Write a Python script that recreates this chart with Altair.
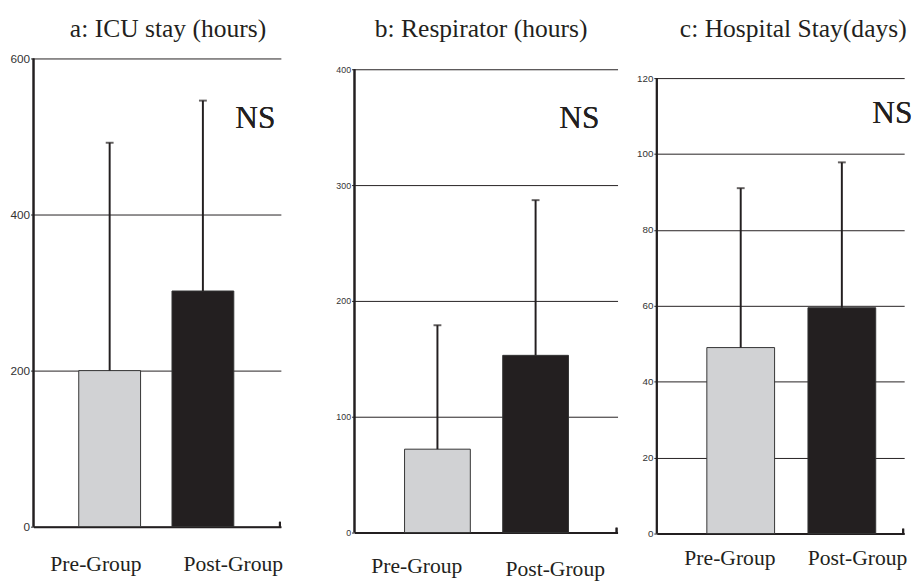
import altair as alt
import pandas as pd

groups = ["Pre-Group", "Post-Group"]
bar_colors = ["#d1d2d4", "#231f20"]

titles = ["a: ICU stay (hours)", "b: Respirator (hours)", "c: Hospital Stay(days)"]

icu_mean = [200, 302]
icu_top = [492, 546]
resp_mean = [72, 153]
resp_top = [179, 287]
hosp_mean = [49, 59.5]
hosp_top = [91, 97.8]

y_max = [600, 400, 120]
y_ticks = [[0, 200, 400, 600], [0, 100, 200, 300, 400], [0, 20, 40, 60, 80, 100, 120]]
ns_text = "NS"
ns_y = [524, 358, 110.7]

INK = "#231f20"
SERIF = "Liberation Serif, Times New Roman, serif"


def panel(title, mean, top, ymax, ticks, nsy, w, h, h_axis, pi, po, al, toff, tdx,
          ysize, yext, pre_off, post_off, pre_pad, post_pad, ns_x):
    df = pd.DataFrame({"group": groups, "mean": mean, "top": top})
    # scale top extended so that the axis maximum sits h - h_axis px below the panel top
    y_scale_top = ymax * h / h_axis
    x = alt.X(
        "group:N", sort=groups,
        scale=alt.Scale(domain=groups, paddingInner=pi, paddingOuter=po, align=al),
        axis=alt.Axis(
            title=None, labelAngle=0, ticks=False,
            domainColor=INK, domainWidth=2,
            labelFont=SERIF, labelFontSize=22, labelColor=INK,
            labelOffset={"condition": {"test": "datum.value === 'Pre-Group'", "value": pre_off}, "value": post_off},
            labelPadding={"condition": {"test": "datum.value === 'Pre-Group'", "value": pre_pad}, "value": post_pad},
        ),
    )
    y = alt.Y(
        "mean:Q",
        scale=alt.Scale(domain=[0, y_scale_top], nice=False, zero=True),
        axis=alt.Axis(
            title=None, values=ticks, format="d", domain=False,
            grid=True, gridColor=INK, gridWidth=1,
            tickSize=3, tickColor=INK, tickWidth=1,
            labelFont="Liberation Sans", labelFontSize=ysize, labelColor="#333333",
            labelPadding=1, minExtent=yext, maxExtent=yext,
        ),
    )
    bars = alt.Chart(df).mark_bar(stroke="#333333", strokeWidth=1).encode(
        x=x, y=y,
        color=alt.Color("group:N", scale=alt.Scale(domain=groups, range=bar_colors), legend=None),
    )
    err = alt.Chart(df).mark_rule(strokeWidth=2, color=INK).encode(
        x=alt.X("group:N", sort=groups), y="mean:Q", y2="top:Q"
    )
    cap = alt.Chart(df).mark_tick(thickness=2, size=8, color=INK).encode(
        x=alt.X("group:N", sort=groups), y="top:Q"
    )
    yaxis_line = alt.Chart(df).mark_rule(strokeWidth=2, color=INK).encode(
        x=alt.value(0), y=alt.datum(0), y2=alt.datum(ymax)
    )
    ns = alt.Chart(df).mark_text(
        text=ns_text, font=SERIF, fontSize=32, color=INK,
        align="center", baseline="middle",
    ).encode(x=alt.value(ns_x), y=alt.datum(nsy))
    endtick = alt.Chart(df).mark_rule(strokeWidth=2, color=INK).encode(
        x=alt.value(w - 1), y=alt.value(h), y2=alt.value(h - 5)
    )
    return alt.layer(bars, err, cap, yaxis_line, ns, endtick).properties(
        width=w, height=h,
        title=alt.TitleParams(
            title, font=SERIF, fontSize=26, fontWeight="normal",
            color=INK, offset=toff, dx=tdx, anchor="middle",
        ),
    )


pa = panel(titles[0], icu_mean, icu_top, y_max[0], y_ticks[0], ns_y[0],
           252, 477, 477, 0.337, 0.495, 0.49, 11, 11, 12, 26, -14, 31, 28, 28, 226)
pb = panel(titles[1], resp_mean, resp_top, y_max[1], y_ticks[1], ns_y[1],
           268, 483, 472, 0.33, 0.505, 0.505, 17, -5, 9, 59, -21, 20, 24, 27, 229)
pc = panel(titles[2], hosp_mean, hosp_top, y_max[2], y_ticks[2], ns_y[2],
           252, 484, 464, 0.33, 0.388, 0.6375, 17, 13, 10, 26, -11, 16, 15, 15, 240)

chart = alt.hconcat(pa, pb, pc, spacing=14).properties(
    padding={"left": 0, "top": 3, "right": 0, "bottom": 0},
    background="white",
).configure_view(stroke=None)

chart.save("out.html", embed_options={"renderer": "svg", "actions": False})
